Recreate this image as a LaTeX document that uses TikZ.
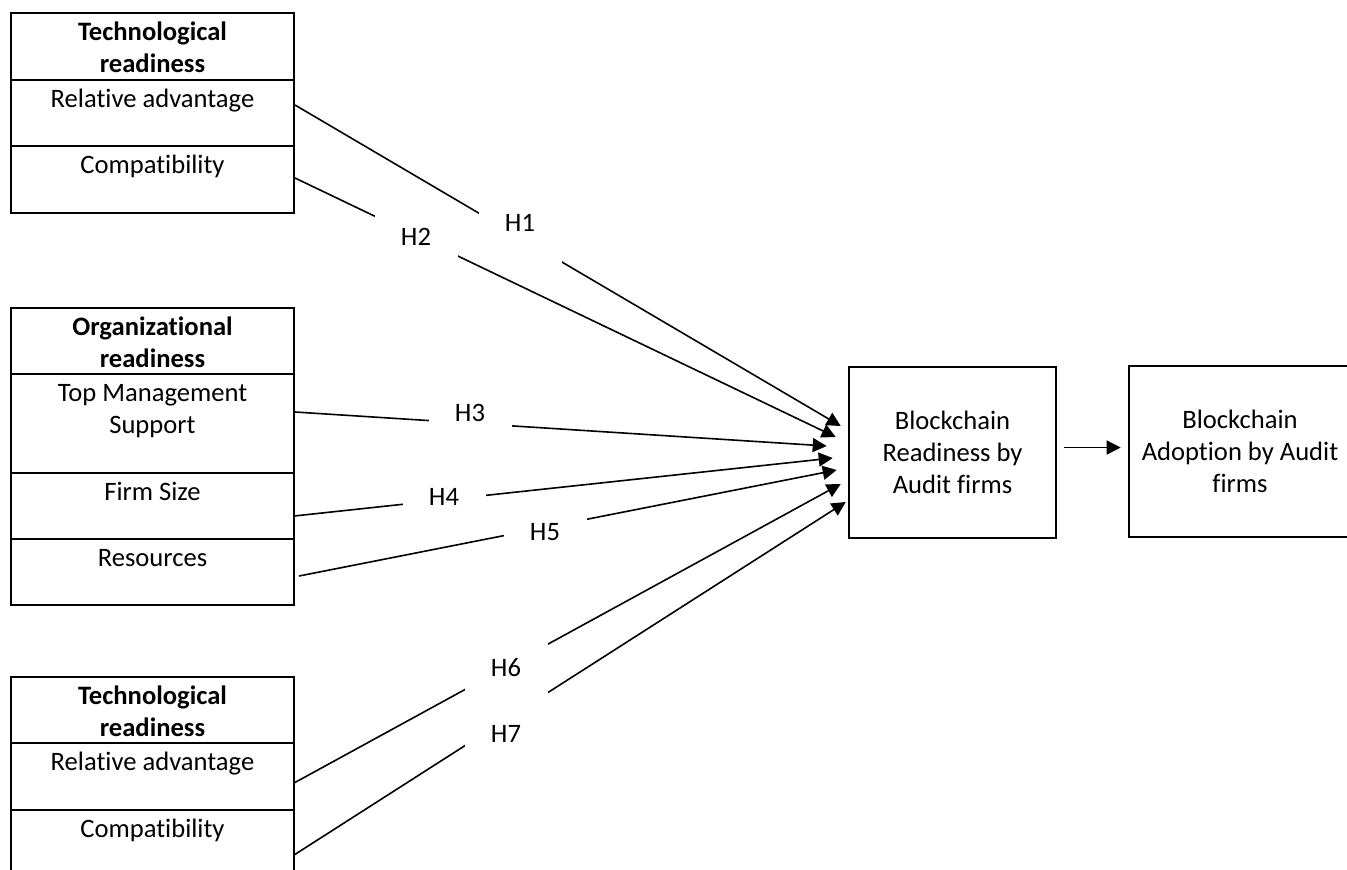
\documentclass[tikz,border=0pt]{standalone}
\usepackage{fontspec}
\setmainfont{Carlito}[Ligatures=NoCommon]
\usetikzlibrary{positioning,calc,arrows.meta}
\newcommand{\stackrows}[1]{\begin{tabular}[t]{@{}c@{}}#1\end{tabular}}
\begin{document}
\begin{tikzpicture}[x=0.5pt, y=-0.5pt,
    every node/.style={font=\fontsize{13.3pt}{16pt}\selectfont},
    rowbox/.style={draw, line width=1.3pt, minimum width=141.5pt, inner ysep=0pt, outer sep=0pt, text height=13.5pt, text depth=#1},
    bigbox/.style={draw, line width=1.3pt, minimum height=85.5pt, align=center},
    hline/.style={line width=0.8pt, -{Triangle[length=7pt, width=7pt]}},
    hyp/.style={fill=white, inner sep=0pt, minimum width=41.5pt, text height=17.5pt, text depth=15.5pt, anchor=base}]
   \useasboundingbox (0,0) rectangle (1347,869);
   \fill[white] (0,0) rectangle (1347,869);
   \node[rowbox=20pt, anchor=north west] (tech1) at (11,13) {\bfseries\stackrows{Technological\\readiness}};
   \node[rowbox=19.5pt, below=0pt of tech1] (ra1) {Relative advantage};
   \node[rowbox=20pt, below=0pt of ra1] (co1) {Compatibility};
   \node[rowbox=19.5pt, anchor=north west] (org) at (11,308) {\bfseries\stackrows{Organizational\\readiness}};
   \node[rowbox=36pt, below=0pt of org] (tms) {\stackrows{Top Management\\Support}};
   \node[rowbox=19.5pt, below=0pt of tms] (fs) {Firm Size};
   \node[rowbox=19.5pt, below=0pt of fs] (res) {Resources};
   \node[rowbox=19.5pt, anchor=north west] (tech3) at (11,677) {\bfseries\stackrows{Technological\\readiness}};
   \node[rowbox=20pt, below=0pt of tech3] (ra3) {Relative advantage};
   \node[rowbox=20pt, below=0pt of ra3] (co3) {Compatibility};
   \node[bigbox, minimum width=103.5pt] (rd) at (952.5,452.5) {Blockchain\\Readiness by\\Audit firms};
   \node[bigbox, minimum width=111pt] (ad) at (1240,451.5) {Blockchain\\Adoption by Audit\\firms};
   \draw[hline] ($(ra1.east)+(1,-8)$) -- ($(rd.west)+(-7,-26.5)$);
   \draw[hline] ($(co1.east)+(1,-1.5)$) -- ($(rd.west)+(-12,-15.5)$);
   \draw[hline] ($(tms.east)+(1,-11.5)$) -- ($(rd.west)+(-21,-6.5)$);
   \draw[hline] ($(fs.east)+(0,10)$) -- ($(rd.west)+(-15,5.5)$);
   \draw[hline] ($(res.east)+(5,4)$) -- ($(rd.west)+(-11,17.5)$);
   \draw[hline] ($(ra3.east)+(0,6.5)$) -- ($(rd.west)+(-7,31.5)$);
   \draw[hline] ($(co3.east)+(0,11.5)$) -- ($(rd.west)+(-2,49.5)$);
   \draw[hline] ($(rd.east)+(7,-5)$) -- ($(ad.west)+(-7,-4)$);
   \node[hyp] (h1) at (520,231.5) {H1};
   \node[hyp] (h2) at (416,245.5) {H2};
   \node[hyp] (h3) at (470,421.5) {H3};
   \node[hyp] (h4) at (444,505.5) {H4};
   \node[hyp] (h5) at (545,540.5) {H5};
   \node[hyp] (h6) at (506,676.5) {H6};
   \node[hyp] (h7) at (506,742.5) {H7};
\end{tikzpicture}
\end{document}
